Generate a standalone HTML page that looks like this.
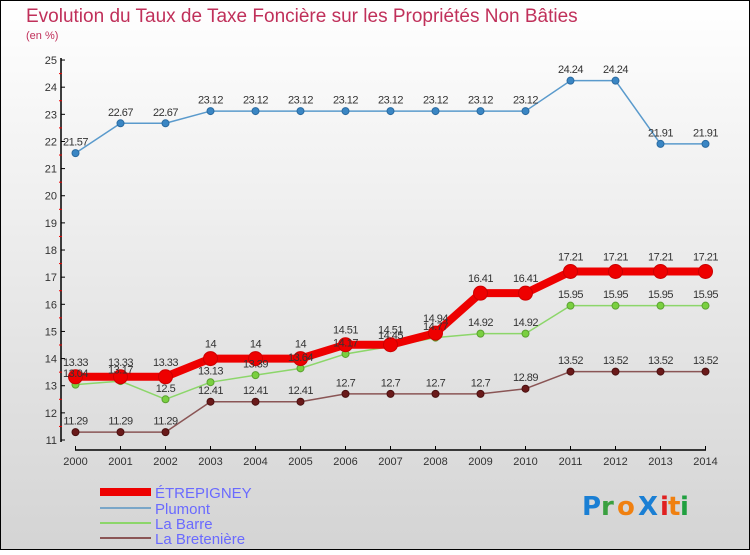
<!DOCTYPE html>
<html><head><meta charset="utf-8"><style>
html,body{margin:0;padding:0}
body{width:750px;height:550px;overflow:hidden;font-family:"Liberation Sans",sans-serif}
</style></head><body>
<svg id="chart" width="750" height="550" xmlns="http://www.w3.org/2000/svg">
<defs><linearGradient id="bg" x1="0" y1="0" x2="0" y2="1"><stop offset="0" stop-color="#ffffff"/><stop offset="1" stop-color="#d4d4d4"/></linearGradient></defs>
<rect x="0.5" y="0.5" width="749" height="549" fill="url(#bg)" stroke="#000"/>
<text x="26" y="22" font-size="19" fill="#c0305a">Evolution du Taux de Taxe Foncière sur les Propriétés Non Bâties</text>
<text x="26" y="39" font-size="11" fill="#c0305a">(en %)</text>
<g id="axes"></g><g id="series"></g><g id="labels"></g>
<g>
<line x1="100" y1="492" x2="151" y2="492" stroke="#e00" stroke-width="8"/>
<text x="155" y="498" font-size="15" fill="#6a6aff">ÉTREPIGNEY</text>
<line x1="100" y1="508" x2="151" y2="508" stroke="#7aa6c8" stroke-width="2"/>
<text x="155" y="514" font-size="15" fill="#6a6aff">Plumont</text>
<line x1="100" y1="523" x2="151" y2="523" stroke="#8cd66a" stroke-width="2"/>
<text x="155" y="529" font-size="15" fill="#6a6aff">La Barre</text>
<line x1="100" y1="538" x2="151" y2="538" stroke="#8a5555" stroke-width="2"/>
<text x="155" y="544" font-size="15" fill="#6a6aff">La Bretenière</text>
</g>
<g font-size="26" font-weight="bold" font-family="'DejaVu Sans',sans-serif">
<text x="582" y="515" fill="#1a7fd4">P</text><text x="601" y="515" fill="#3aa040">r</text><text x="617" y="515" fill="#f08010">o</text><text x="638" y="515" fill="#1a7fd4">X</text><text x="660" y="515" fill="#e02020">i</text><text x="668" y="515" fill="#f08010">t</text><text x="680" y="515" fill="#20a040">i</text>
</g>
</svg>
<script>
const years=[2000,2001,2002,2003,2004,2005,2006,2007,2008,2009,2010,2011,2012,2013,2014];
const yTicks=[11,12,13,14,15,16,17,18,19,20,21,22,23,24,25];
const etrepigney=[13.33,13.33,13.33,14,14,14,14.51,14.51,14.94,16.41,16.41,17.21,17.21,17.21,17.21];
const plumont=[21.57,22.67,22.67,23.12,23.12,23.12,23.12,23.12,23.12,23.12,23.12,24.24,24.24,21.91,21.91];
const laBarre=[13.04,13.17,12.5,13.13,13.39,13.64,14.17,14.45,14.77,14.92,14.92,15.95,15.95,15.95,15.95];
const bretenière=[11.29,11.29,11.29,12.41,12.41,12.41,12.7,12.7,12.7,12.7,12.89,13.52,13.52,13.52,13.52];
const NS='http://www.w3.org/2000/svg';
const X=i=>75.5+i*45, Y=v=>440-(v-11)*27.14;
function mk(tag,attrs,parent){const e=document.createElementNS(NS,tag);for(const k in attrs)e.setAttribute(k,attrs[k]);parent.appendChild(e);return e;}
const ax=document.getElementById('axes');
const yl=mk('line',{x1:61,y1:58,x2:61,y2:442,stroke:'#000','stroke-width':1.5},ax);


const xl=mk('line',{x1:75,y1:450,x2:706,y2:450,stroke:'#000','stroke-width':1.5},ax);


yTicks.forEach((t,i)=>{
  mk('line',{x1:61,y1:Y(t),x2:65,y2:Y(t),stroke:'#000'},ax);
  if(i<yTicks.length-1) mk('line',{x1:59,y1:Y(t+0.5),x2:62,y2:Y(t+0.5),stroke:'#e00'},ax);
  const tx=mk('text',{x:57,y:Y(t)+4,'font-size':11,fill:'#333','text-anchor':'end'},ax);tx.textContent=t;
  
  
});
years.forEach((yr,i)=>{
  mk('line',{x1:X(i),y1:446,x2:X(i),y2:450,stroke:'#000'},ax);
  const tx=mk('text',{x:X(i),y:465,'font-size':11,fill:'#333','text-anchor':'middle'},ax);tx.textContent=yr;
  
  
});
const sg=document.getElementById('series'),lg=document.getElementById('labels');
function series(name,data,color,lw,r,dot,dotStroke){
  const g=mk('g',{},sg);
  
  
  mk('polyline',{points:data.map((v,i)=>X(i)+','+Y(v)).join(' '),fill:'none',stroke:color,'stroke-width':lw,'stroke-linejoin':'round'},g);
  data.forEach((v,i)=>{
    const c=mk('circle',{cx:X(i),cy:Y(v),r:r,fill:dot,stroke:dotStroke,'stroke-width':1},g);
    
    
    const t=mk('text',{x:X(i),y:Y(v)-r-4,'font-size':11,fill:'#333','text-anchor':'middle','letter-spacing':'-0.5'},lg);
    t.textContent=String(v);
    
    
  });
}
series('bretenière',bretenière,'#8a5555',1.5,3.5,'#6a1a1a','#4a1010');
series('la-barre',laBarre,'#8cd66a',1.5,3.5,'#7ad040','#5aa030');
series('plumont',plumont,'#5a9acc',1.5,3.5,'#3a86c4','#2a6aa0');
series('etrepigney',etrepigney,'#e00',8,7,'#e00','#c00');
</script>
</body></html>
